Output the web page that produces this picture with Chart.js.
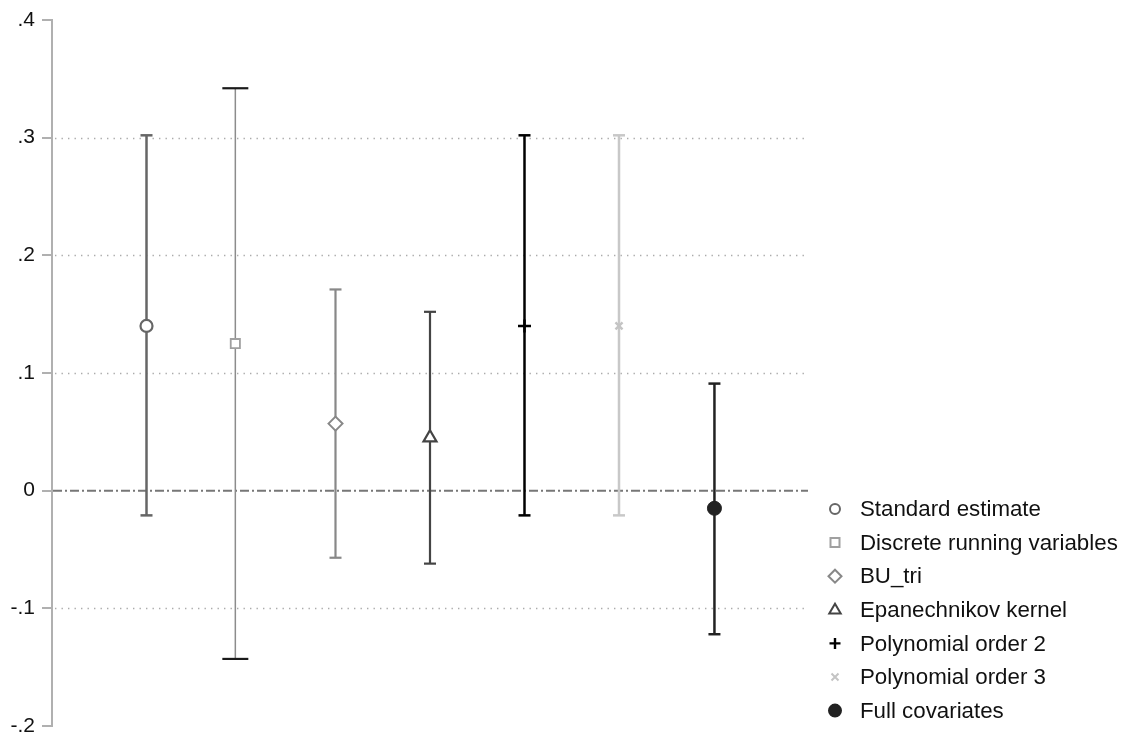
<!DOCTYPE html>
<html>
<head>
<meta charset="utf-8">
<script src="https://cdn.jsdelivr.net/npm/chart.js@4/dist/chart.umd.min.js"></script>
<style>
  html, body { margin: 0; padding: 0; background: #ffffff; }
  #wrap { width: 1125px; height: 738px; position: relative; }
</style>
</head>
<body>
<div id="wrap"><canvas id="c" width="1125" height="738"></canvas></div>
<script>
// ---- data ----
const seriesNames = ['Standard estimate', 'Discrete running variables', 'BU_tri', 'Epanechnikov kernel', 'Polynomial order 2', 'Polynomial order 3', 'Full covariates'];
const xPositions = [1, 1.94, 3, 4, 5, 6, 7.01];
const estimates = [0.140, 0.125, 0.057, 0.045, 0.140, 0.140, -0.015];
const ciLow = [-0.021, -0.143, -0.057, -0.062, -0.021, -0.021, -0.122];
const ciHigh = [0.302, 0.342, 0.171, 0.152, 0.302, 0.302, 0.091];
const yTickValues = [-0.2, -0.1, 0, 0.1, 0.2, 0.3, 0.4];
const yTickLabels = ['-.2', '-.1', '0', '.1', '.2', '.3', '.4'];

// ---- styles ----
const lineColors = ['#666666', '#8c8c8c', '#888888', '#444444', '#000000', '#c8c8c8', '#222222'];
const capColors = ['#666666', '#1a1a1a', '#888888', '#444444', '#000000', '#c8c8c8', '#222222'];
const lineWidths = [2.5, 1.5, 2.2, 2.2, 2.5, 2.5, 2.5];
const capHalf = [6, 13, 6, 6, 6, 6, 6];
const markerColors = ['#666666', '#a0a0a0', '#888888', '#444444', '#000000', '#c4c4c4', '#222222'];
const markerStyles = ['circle', 'rect', 'rectRot', 'triangle', 'cross', 'crossRot', 'circle'];
const markerRadius = [6, 6.5, 7, 7.5, 6.5, 5, 7];
const markerFill = ['#ffffff', '#ffffff', '#ffffff', '#ffffff', '#000000', '#c4c4c4', '#222222'];
const markerBorder = [2.2, 1.8, 2, 2.2, 2.5, 2.4, 1];

const FONT = '"Liberation Sans", Arial, "DejaVu Sans", sans-serif';

const datasets = [];
seriesNames.forEach((name, i) => {
  datasets.push({
    type: 'scatter',
    label: name,
    data: [{ x: xPositions[i], y: estimates[i] }],
    pointStyle: markerStyles[i],
    pointRadius: markerRadius[i],
    pointHoverRadius: markerRadius[i],
    pointBackgroundColor: markerFill[i],
    pointBorderColor: markerColors[i],
    pointBorderWidth: markerBorder[i],
    order: 0
  });
});
seriesNames.forEach((name, i) => {
  datasets.push({
    type: 'line',
    label: name + ' CI',
    data: [{ x: xPositions[i], y: ciLow[i] }, { x: xPositions[i], y: ciHigh[i] }],
    borderColor: lineColors[i],
    borderWidth: lineWidths[i],
    pointRadius: 0,
    showLine: true,
    fill: false,
    order: 1
  });
});

function drawMarker(ctx, style, x, y, r, stroke, fill, lw) {
  ctx.save();
  ctx.strokeStyle = stroke;
  ctx.fillStyle = fill;
  ctx.lineWidth = lw;
  ctx.beginPath();
  if (style === 'circle') {
    ctx.arc(x, y, r, 0, Math.PI * 2);
    ctx.fill(); ctx.stroke();
  } else if (style === 'rect') {
    const s = r * 0.9;
    ctx.rect(x - s, y - s, 2 * s, 2 * s);
    ctx.fill(); ctx.stroke();
  } else if (style === 'rectRot') {
    ctx.moveTo(x, y - r); ctx.lineTo(x + r, y); ctx.lineTo(x, y + r); ctx.lineTo(x - r, y); ctx.closePath();
    ctx.fill(); ctx.stroke();
  } else if (style === 'triangle') {
    ctx.moveTo(x, y - r); ctx.lineTo(x + r * 0.95, y + r * 0.6); ctx.lineTo(x - r * 0.95, y + r * 0.6); ctx.closePath();
    ctx.fill(); ctx.stroke();
  } else if (style === 'cross') {
    ctx.moveTo(x - r, y); ctx.lineTo(x + r, y); ctx.moveTo(x, y - r); ctx.lineTo(x, y + r);
    ctx.stroke();
  } else if (style === 'crossRot') {
    ctx.moveTo(x - r, y - r); ctx.lineTo(x + r, y + r); ctx.moveTo(x + r, y - r); ctx.lineTo(x - r, y + r);
    ctx.stroke();
  }
  ctx.restore();
}

const decorPlugin = {
  id: 'decor',
  beforeDatasetsDraw(chart) {
    const { ctx, chartArea, scales } = chart;
    const ys = scales.y;
    ctx.save();
    // dotted gridlines
    ctx.strokeStyle = '#ababab';
    ctx.lineWidth = 1.3;
    ctx.setLineDash([1.4, 5.1]);
    yTickValues.forEach(v => {
      if (v === 0 || v === ys.min || v === ys.max) return;
      const py = Math.round(ys.getPixelForValue(v)) + 0.5;
      ctx.beginPath();
      ctx.moveTo(chartArea.left + 3, py);
      ctx.lineTo(chartArea.right, py);
      ctx.stroke();
    });
    // zero reference line (dash-dot)
    ctx.strokeStyle = '#777777';
    ctx.lineWidth = 2;
    ctx.setLineDash([9, 3, 2, 3]);
    const pz = ys.getPixelForValue(0);
    ctx.beginPath();
    ctx.moveTo(chartArea.left + 1, pz);
    ctx.lineTo(chartArea.right, pz);
    ctx.stroke();
    ctx.restore();
  },
  afterDatasetsDraw(chart) {
    const { ctx, scales } = chart;
    const xs = scales.x, ys = scales.y;
    ctx.save();
    seriesNames.forEach((n, i) => {
      const px = xs.getPixelForValue(xPositions[i]);
      ctx.strokeStyle = capColors[i];
      ctx.lineWidth = (i === 1) ? 2.2 : lineWidths[i];
      [ciLow[i], ciHigh[i]].forEach(v => {
        const py = ys.getPixelForValue(v);
        ctx.beginPath();
        ctx.moveTo(px - capHalf[i], py);
        ctx.lineTo(px + capHalf[i], py);
        ctx.stroke();
      });
    });
    ctx.restore();
    // legend
    ctx.save();
    ctx.font = '22.3px ' + FONT;
    ctx.textBaseline = 'middle';
    ctx.textAlign = 'left';
    const lr = [5, 5, 6.5, 6, 5.5, 3.5, 6];
    seriesNames.forEach((n, i) => {
      const y = 509 + i * 33.6;
      drawMarker(ctx, markerStyles[i], 835, y, lr[i], markerColors[i], markerFill[i], i === 4 ? 2.4 : 2);
      ctx.fillStyle = '#111111';
      ctx.fillText(n, 860, y + 1);
    });
    ctx.restore();
  }
};

new Chart(document.getElementById('c'), {
  data: { datasets },
  options: {
    responsive: false,
    animation: false,
    devicePixelRatio: 1,
    layout: { padding: { left: 0, right: 317, top: 20, bottom: 12 } },
    plugins: {
      legend: { display: false },
      tooltip: { enabled: false },
      title: { display: false }
    },
    scales: {
      x: {
        type: 'linear',
        min: 0,
        max: 8,
        display: false
      },
      y: {
        type: 'linear',
        min: -0.2,
        max: 0.4,
        afterFit(scale) { scale.width = 52; scale.paddingTop = 0; scale.paddingBottom = 0; },
        afterBuildTicks(scale) { scale.ticks = yTickValues.map(v => ({ value: v })); },
        ticks: {
          callback: (v) => { const k = yTickValues.findIndex(t => Math.abs(t - v) < 1e-9); return k >= 0 ? yTickLabels[k] : ''; },
          color: '#111111',
          font: { family: FONT, size: 21 },
          padding: 7
        },
        grid: { drawOnChartArea: false, drawTicks: true, tickLength: 10, tickColor: '#b0b0b0', lineWidth: 2 },
        border: { display: true, color: '#b0b0b0', width: 2 }
      }
    }
  },
  plugins: [decorPlugin]
});
</script>
</body>
</html>
